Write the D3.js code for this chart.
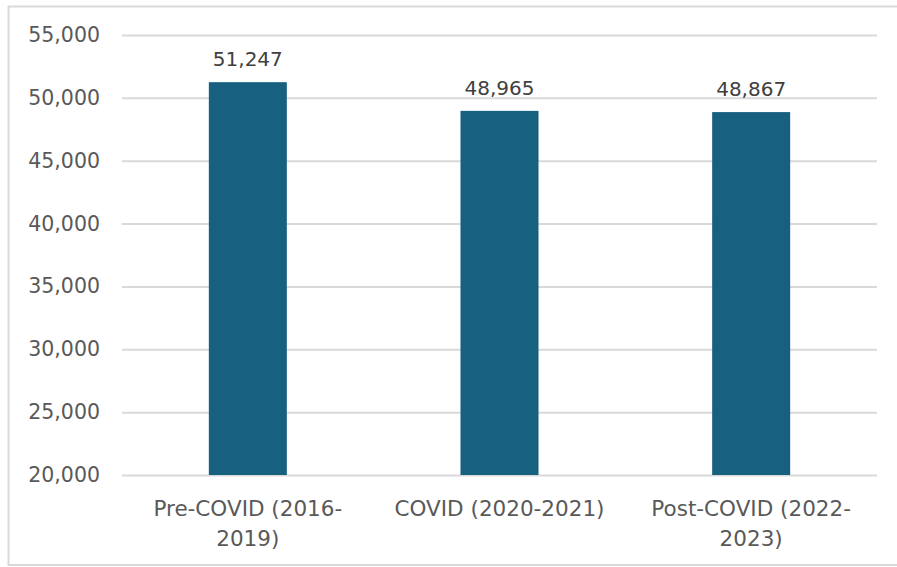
<!DOCTYPE html>
<html><head><meta charset="utf-8">
<script src="https://cdn.jsdelivr.net/npm/d3@7"></script>
<style>body{margin:0;background:#fff}</style>
</head><body>
<svg id="c" width="897" height="567"></svg>
<script>
const categories = ["Pre-COVID (2016-2019)", "COVID (2020-2021)", "Post-COVID (2022-2023)"];
const categoryLines = [["Pre-COVID (2016-", "2019)"], ["COVID (2020-2021)"], ["Post-COVID (2022-", "2023)"]];
const values = [51247, 48965, 48867];
const yTicks = [20000, 25000, 30000, 35000, 40000, 45000, 50000, 55000];

const svg = d3.select("#c");
const font = "'DejaVu Sans', sans-serif";
const textColor = "#595959";

svg.append("rect").attr("x", 8.5).attr("y", 6.5).attr("width", 900).attr("height", 558.5)
  .attr("fill", "#fff").attr("stroke", "#d9d9d9").attr("stroke-width", 2);

const x = d3.scaleBand().domain(categories).range([122, 877]).paddingInner(0.69).paddingOuter(0.345);
const y = d3.scaleLinear().domain([20000, 55000]).range([475, 35]);

const yAxis = svg.append("g").attr("transform", "translate(122,0)")
  .call(d3.axisLeft(y).tickValues(yTicks).tickSize(-755).tickFormat(d3.format(",")).tickPadding(22));
yAxis.select(".domain").remove();
yAxis.selectAll("line").attr("stroke", "#d9d9d9").attr("stroke-width", 2);
yAxis.selectAll("text").attr("fill", textColor).style("font-family", font).style("font-size", "20.5px");

svg.append("g").selectAll("rect").data(values).join("rect")
  .attr("x", (d, i) => x(categories[i])).attr("width", x.bandwidth())
  .attr("y", d => y(d)).attr("height", d => y(20000) - y(d))
  .attr("fill", "#17607f");

svg.append("g").selectAll("text").data(values).join("text")
  .attr("x", (d, i) => x(categories[i]) + x.bandwidth() / 2)
  .attr("y", d => y(d) - 16)
  .attr("text-anchor", "middle").attr("fill", "#404040")
  .style("font-family", font).style("font-size", "20px")
  .text(d => d3.format(",")(d));

const xl = svg.append("g").selectAll("text").data(categories).join("text")
  .attr("x", d => x(d) + x.bandwidth() / 2)
  .attr("y", 516)
  .attr("text-anchor", "middle").attr("fill", textColor)
  .style("font-family", font).style("font-size", "21.5px");
xl.each(function(d, i) {
  const t = d3.select(this);
  categoryLines[i].forEach((ln, j) => {
    t.append("tspan").attr("x", x(d) + x.bandwidth() / 2).attr("dy", j === 0 ? 0 : 30).text(ln);
  });
});
</script>
</body></html>
